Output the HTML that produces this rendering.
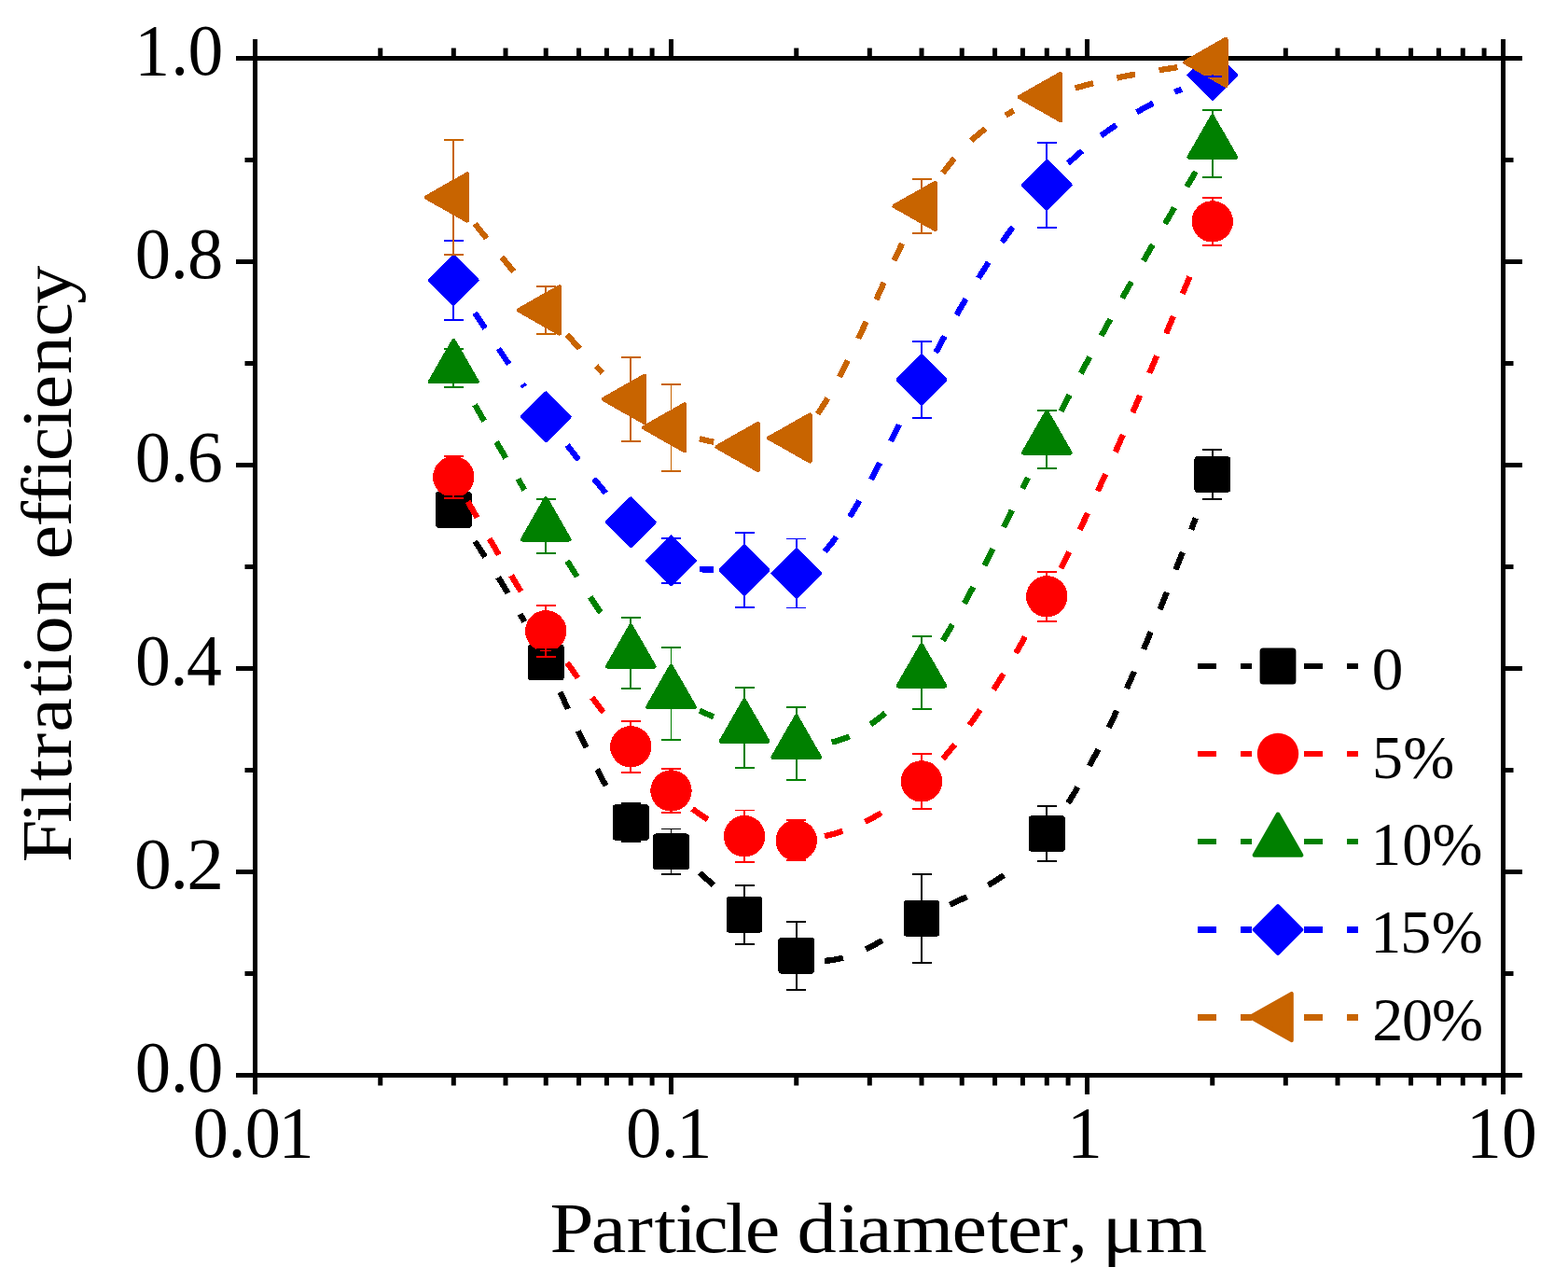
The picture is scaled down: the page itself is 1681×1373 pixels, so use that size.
<!DOCTYPE html>
<html><head><meta charset="utf-8"><title>Filtration efficiency</title><style>html,body{margin:0;padding:0;background:#fff;overflow:hidden}svg{display:block}</style></head>
<body>
<svg width="1681" height="1373" viewBox="0 0 1681 1373"><rect x="273.5" y="62.5" width="1338.0" height="1090.0" fill="none" stroke="#000" stroke-width="5"/>
<path d="M273.5,1152.5 V1173.0 M273.5,62.5 V42.0 M407.76,1152.5 V1163.5 M407.76,62.5 V51.5 M486.30,1152.5 V1163.5 M486.30,62.5 V51.5 M542.02,1152.5 V1163.5 M542.02,62.5 V51.5 M585.24,1152.5 V1163.5 M585.24,62.5 V51.5 M620.56,1152.5 V1163.5 M620.56,62.5 V51.5 M650.41,1152.5 V1163.5 M650.41,62.5 V51.5 M676.28,1152.5 V1163.5 M676.28,62.5 V51.5 M699.09,1152.5 V1163.5 M699.09,62.5 V51.5 M719.5,1152.5 V1173.0 M719.5,62.5 V42.0 M853.76,1152.5 V1163.5 M853.76,62.5 V51.5 M932.30,1152.5 V1163.5 M932.30,62.5 V51.5 M988.02,1152.5 V1163.5 M988.02,62.5 V51.5 M1031.24,1152.5 V1163.5 M1031.24,62.5 V51.5 M1066.56,1152.5 V1163.5 M1066.56,62.5 V51.5 M1096.41,1152.5 V1163.5 M1096.41,62.5 V51.5 M1122.28,1152.5 V1163.5 M1122.28,62.5 V51.5 M1145.09,1152.5 V1163.5 M1145.09,62.5 V51.5 M1165.5,1152.5 V1173.0 M1165.5,62.5 V42.0 M1299.76,1152.5 V1163.5 M1299.76,62.5 V51.5 M1378.30,1152.5 V1163.5 M1378.30,62.5 V51.5 M1434.02,1152.5 V1163.5 M1434.02,62.5 V51.5 M1477.24,1152.5 V1163.5 M1477.24,62.5 V51.5 M1512.56,1152.5 V1163.5 M1512.56,62.5 V51.5 M1542.41,1152.5 V1163.5 M1542.41,62.5 V51.5 M1568.28,1152.5 V1163.5 M1568.28,62.5 V51.5 M1591.09,1152.5 V1163.5 M1591.09,62.5 V51.5 M1611.5,1152.5 V1173.0 M1611.5,62.5 V42.0 M273.5,1152.5 H253.0 M1611.5,1152.5 H1632.0 M273.5,1043.5 H262.5 M1611.5,1043.5 H1622.5 M273.5,934.5 H253.0 M1611.5,934.5 H1632.0 M273.5,825.5 H262.5 M1611.5,825.5 H1622.5 M273.5,716.5 H253.0 M1611.5,716.5 H1632.0 M273.5,607.5 H262.5 M1611.5,607.5 H1622.5 M273.5,498.5 H253.0 M1611.5,498.5 H1632.0 M273.5,389.5 H262.5 M1611.5,389.5 H1622.5 M273.5,280.5 H253.0 M1611.5,280.5 H1632.0 M273.5,171.5 H262.5 M1611.5,171.5 H1622.5 M273.5,62.5 H253.0 M1611.5,62.5 H1632.0" stroke="#000" stroke-width="5" fill="none"/>
<g shape-rendering="crispEdges">
<g fill="none" stroke="#000000" stroke-width="6.3" stroke-dasharray="20 26"><path d="M509.10,580.15 L516.70,591.63 L524.30,603.30 L531.90,615.23 L539.50,627.45 L547.10,640.01 L554.70,652.96 L562.30,666.36"/><path d="M600.44,741.70 L608.04,758.01 L615.64,774.34 L623.24,790.50 L630.84,806.29 L638.44,821.49 L646.04,835.91 L653.64,849.34"/><path d="M749.90,935.51 L757.50,942.09 L765.10,948.93 L772.70,955.98"/><path d="M884.16,1029.89 L891.76,1029.15 L899.36,1027.72 L906.96,1025.66 L914.56,1023.04 L922.16,1019.95 L929.76,1016.46 L937.36,1012.64 L944.96,1008.56 L952.56,1004.31"/><path d="M1018.42,969.64 L1026.02,966.11 L1033.62,962.50 L1041.22,958.76 L1048.82,954.81 L1056.42,950.60 L1064.02,946.06 L1071.62,941.13 L1079.22,935.74 L1086.82,929.83 L1094.42,923.34"/><path d="M1145.08,860.85 L1152.68,848.38 L1160.28,835.18 L1167.88,821.28 L1175.48,806.73 L1183.08,791.56 L1190.68,775.81 L1198.28,759.51 L1205.88,742.72 L1213.48,725.45 L1221.08,707.76 L1228.68,689.67 L1236.28,671.23 L1243.88,652.48 L1251.48,633.44 L1259.08,614.17 L1266.68,594.70 L1274.28,575.06 L1281.88,555.29"/></g>
<rect x="466.90" y="527.00" width="38.8" height="38.8" rx="3.5" fill="#000000"/><rect x="565.84" y="690.60" width="38.8" height="38.8" rx="3.5" fill="#000000"/><rect x="656.88" y="862.10" width="38.8" height="38.8" rx="3.5" fill="#000000"/><rect x="700.10" y="893.40" width="38.8" height="38.8" rx="3.5" fill="#000000"/><rect x="778.64" y="960.90" width="38.8" height="38.8" rx="3.5" fill="#000000"/><rect x="834.36" y="1004.90" width="38.8" height="38.8" rx="3.5" fill="#000000"/><rect x="968.62" y="964.90" width="38.8" height="38.8" rx="3.5" fill="#000000"/><rect x="1102.88" y="874.10" width="38.8" height="38.8" rx="3.5" fill="#000000"/><rect x="1280.36" y="489.10" width="38.8" height="38.8" rx="3.5" fill="#000000"/>
<g fill="none" stroke="#FF0000" stroke-width="6.3" stroke-dasharray="20 26"><path d="M501.50,537.55 L509.10,550.68 L516.70,563.76 L524.30,576.77 L531.90,589.68 L539.50,602.49 L547.10,615.17 L554.70,627.71 L562.30,640.09"/><path d="M608.04,710.27 L615.64,721.14 L623.24,731.80 L630.84,742.23 L638.44,752.45 L646.04,762.47 L653.64,772.28"/><path d="M742.30,866.98 L749.90,872.52 L757.50,877.56 L765.10,882.12"/><path d="M884.16,896.28 L891.76,894.38 L899.36,892.15 L906.96,889.58 L914.56,886.66 L922.16,883.36 L929.76,879.69 L937.36,875.62 L944.96,871.14 L952.56,866.24 L960.16,860.91"/><path d="M1010.82,813.30 L1018.42,804.31 L1026.02,794.87 L1033.62,784.97 L1041.22,774.62 L1048.82,763.85 L1056.42,752.65 L1064.02,741.04 L1071.62,729.02 L1079.22,716.61 L1086.82,703.81 L1094.42,690.64 L1102.02,677.10"/><path d="M1137.48,609.39 L1145.08,593.97 L1152.68,578.27 L1160.28,562.29 L1167.88,546.05 L1175.48,529.57 L1183.08,512.85 L1190.68,495.92 L1198.28,478.78 L1205.88,461.45 L1213.48,443.95 L1221.08,426.29 L1228.68,408.48 L1236.28,390.53 L1243.88,372.47 L1251.48,354.31 L1259.08,336.05 L1266.68,317.72 L1274.28,299.33 L1281.88,280.89"/></g>
<circle cx="486.30" cy="511.20" r="22.2" fill="#FF0000"/><circle cx="585.24" cy="676.30" r="22.2" fill="#FF0000"/><circle cx="676.28" cy="800.30" r="22.2" fill="#FF0000"/><circle cx="719.50" cy="847.50" r="22.2" fill="#FF0000"/><circle cx="798.04" cy="896.20" r="22.2" fill="#FF0000"/><circle cx="853.76" cy="900.90" r="22.2" fill="#FF0000"/><circle cx="988.02" cy="837.40" r="22.2" fill="#FF0000"/><circle cx="1122.28" cy="639.30" r="22.2" fill="#FF0000"/><circle cx="1299.76" cy="237.40" r="22.2" fill="#FF0000"/>
<g fill="none" stroke="#008000" stroke-width="6.3" stroke-dasharray="20 26"><path d="M509.10,433.89 L516.70,447.03 L524.30,460.14 L531.90,473.22 L539.50,486.27 L547.10,499.27 L554.70,512.23 L562.30,525.13"/><path d="M608.04,601.19 L615.64,613.37 L623.24,625.34 L630.84,637.05 L638.44,648.47 L646.04,659.58 L653.64,670.33"/><path d="M749.90,761.69 L757.50,765.10 L765.10,768.20"/><path d="M891.76,795.59 L899.36,793.51 L906.96,790.81 L914.56,787.49 L922.16,783.52 L929.76,778.90 L937.36,773.62 L944.96,767.67 L952.56,761.03 L960.16,753.70"/><path d="M1010.82,686.55 L1018.42,673.92 L1026.02,660.76 L1033.62,647.13 L1041.22,633.07 L1048.82,618.64 L1056.42,603.89 L1064.02,588.88 L1071.62,573.67 L1079.22,558.29 L1086.82,542.82 L1094.42,527.29 L1102.02,511.78"/><path d="M1137.48,440.95 L1145.08,426.28 L1152.68,411.79 L1160.28,397.47 L1167.88,383.31 L1175.48,369.30 L1183.08,355.43 L1190.68,341.69 L1198.28,328.08 L1205.88,314.58 L1213.48,301.19 L1221.08,287.90 L1228.68,274.70 L1236.28,261.58 L1243.88,248.53 L1251.48,235.55 L1259.08,222.62 L1266.68,209.74 L1274.28,196.90 L1281.88,184.08"/></g>
<polygon points="486.30,365.10 511.50,409.00 461.10,409.00" fill="#008000" stroke="#008000" stroke-width="4.4" stroke-linejoin="round"/><polygon points="585.24,534.40 610.44,578.30 560.04,578.30" fill="#008000" stroke="#008000" stroke-width="4.4" stroke-linejoin="round"/><polygon points="676.28,670.60 701.48,714.50 651.08,714.50" fill="#008000" stroke="#008000" stroke-width="4.4" stroke-linejoin="round"/><polygon points="719.50,714.00 744.70,757.90 694.30,757.90" fill="#008000" stroke="#008000" stroke-width="4.4" stroke-linejoin="round"/><polygon points="798.04,750.70 823.24,794.60 772.84,794.60" fill="#008000" stroke="#008000" stroke-width="4.4" stroke-linejoin="round"/><polygon points="853.76,767.80 878.96,811.70 828.56,811.70" fill="#008000" stroke="#008000" stroke-width="4.4" stroke-linejoin="round"/><polygon points="988.02,691.40 1013.22,735.30 962.82,735.30" fill="#008000" stroke="#008000" stroke-width="4.4" stroke-linejoin="round"/><polygon points="1122.28,441.55 1147.48,485.45 1097.08,485.45" fill="#008000" stroke="#008000" stroke-width="4.4" stroke-linejoin="round"/><polygon points="1299.76,124.70 1324.96,168.60 1274.56,168.60" fill="#008000" stroke="#008000" stroke-width="4.4" stroke-linejoin="round"/>
<g fill="none" stroke="#0000FF" stroke-width="6.3" stroke-dasharray="20 26"><path d="M509.10,335.35 L516.70,346.92 L524.30,358.44 L531.90,369.89 L539.50,381.24 L547.10,392.48 L554.70,403.61 L562.30,414.60"/><path d="M608.04,477.13 L615.64,486.89 L623.24,496.50 L630.84,505.95 L638.44,515.25 L646.04,524.43 L653.64,533.48"/><path d="M749.90,610.20 L757.50,610.58 L765.10,610.57"/><path d="M884.16,591.16 L891.76,581.98 L899.36,571.68 L906.96,560.38 L914.56,548.20 L922.16,535.23 L929.76,521.60 L937.36,507.42 L944.96,492.79 L952.56,477.84 L960.16,462.66 L967.76,447.39"/><path d="M1003.22,377.87 L1010.82,363.78 L1018.42,350.02 L1026.02,336.59 L1033.62,323.50 L1041.22,310.77 L1048.82,298.38 L1056.42,286.36 L1064.02,274.70 L1071.62,263.42 L1079.22,252.53 L1086.82,242.02 L1094.42,231.91"/><path d="M1145.08,175.05 L1152.68,168.05 L1160.28,161.41 L1167.88,155.11 L1175.48,149.12 L1183.08,143.44 L1190.68,138.04 L1198.28,132.90 L1205.88,128.01 L1213.48,123.34 L1221.08,118.88 L1228.68,114.62 L1236.28,110.52 L1243.88,106.58 L1251.48,102.77 L1259.08,99.08 L1266.68,95.49"/></g>
<polygon points="486.30,275.30 511.40,300.40 486.30,325.50 461.20,300.40" fill="#0000FF" stroke="#0000FF" stroke-width="4.4" stroke-linejoin="round"/><polygon points="585.24,421.70 610.34,446.80 585.24,471.90 560.14,446.80" fill="#0000FF" stroke="#0000FF" stroke-width="4.4" stroke-linejoin="round"/><polygon points="676.28,534.70 701.38,559.80 676.28,584.90 651.18,559.80" fill="#0000FF" stroke="#0000FF" stroke-width="4.4" stroke-linejoin="round"/><polygon points="719.50,575.80 744.60,600.90 719.50,626.00 694.40,600.90" fill="#0000FF" stroke="#0000FF" stroke-width="4.4" stroke-linejoin="round"/><polygon points="798.04,585.80 823.14,610.90 798.04,636.00 772.94,610.90" fill="#0000FF" stroke="#0000FF" stroke-width="4.4" stroke-linejoin="round"/><polygon points="853.76,589.40 878.86,614.50 853.76,639.60 828.66,614.50" fill="#0000FF" stroke="#0000FF" stroke-width="4.4" stroke-linejoin="round"/><polygon points="988.02,381.90 1013.12,407.00 988.02,432.10 962.92,407.00" fill="#0000FF" stroke="#0000FF" stroke-width="4.4" stroke-linejoin="round"/><polygon points="1122.28,173.25 1147.38,198.35 1122.28,223.45 1097.18,198.35" fill="#0000FF" stroke="#0000FF" stroke-width="4.4" stroke-linejoin="round"/><polygon points="1299.76,55.45 1324.86,80.55 1299.76,105.65 1274.66,80.55" fill="#0000FF" stroke="#0000FF" stroke-width="4.4" stroke-linejoin="round"/>
<g fill="none" stroke="#C86400" stroke-width="6.3" stroke-dasharray="20 26"><path d="M509.10,239.91 L516.70,249.33 L524.30,258.73 L531.90,268.10 L539.50,277.43 L547.10,286.72 L554.70,295.95 L562.30,305.14"/><path d="M608.04,358.80 L615.64,367.32 L623.24,375.69 L630.84,383.87 L638.44,391.85 L646.04,399.60"/><path d="M749.90,470.18 L757.50,472.14 L765.10,473.80"/><path d="M876.56,443.73 L884.16,432.11 L891.76,419.24 L899.36,405.31 L906.96,390.48 L914.56,374.92 L922.16,358.80 L929.76,342.29 L937.36,325.56 L944.96,308.78 L952.56,292.11 L960.16,275.74 L967.76,259.82"/><path d="M1010.82,185.42 L1018.42,175.50 L1026.02,166.45 L1033.62,158.20 L1041.22,150.72 L1048.82,143.93 L1056.42,137.80 L1064.02,132.27 L1071.62,127.28 L1079.22,122.78 L1086.82,118.72"/><path d="M1152.68,94.43 L1160.28,92.34 L1167.88,90.35 L1175.48,88.46 L1183.08,86.66 L1190.68,84.96 L1198.28,83.34 L1205.88,81.79 L1213.48,80.32 L1221.08,78.91 L1228.68,77.56 L1236.28,76.27 L1243.88,75.02 L1251.48,73.82 L1259.08,72.65 L1266.68,71.52"/></g>
<polygon points="456.90,211.55 500.90,186.60 500.90,236.50" fill="#C86400" stroke="#C86400" stroke-width="4.4" stroke-linejoin="round"/><polygon points="555.84,332.45 599.84,307.50 599.84,357.40" fill="#C86400" stroke="#C86400" stroke-width="4.4" stroke-linejoin="round"/><polygon points="646.88,427.85 690.88,402.90 690.88,452.80" fill="#C86400" stroke="#C86400" stroke-width="4.4" stroke-linejoin="round"/><polygon points="690.10,458.30 734.10,433.35 734.10,483.25" fill="#C86400" stroke="#C86400" stroke-width="4.4" stroke-linejoin="round"/><polygon points="768.64,479.00 812.64,454.05 812.64,503.95" fill="#C86400" stroke="#C86400" stroke-width="4.4" stroke-linejoin="round"/><polygon points="824.36,469.50 868.36,444.55 868.36,494.45" fill="#C86400" stroke="#C86400" stroke-width="4.4" stroke-linejoin="round"/><polygon points="958.62,220.90 1002.62,195.95 1002.62,245.85" fill="#C86400" stroke="#C86400" stroke-width="4.4" stroke-linejoin="round"/><polygon points="1092.88,104.00 1136.88,79.05 1136.88,128.95" fill="#C86400" stroke="#C86400" stroke-width="4.4" stroke-linejoin="round"/><polygon points="1270.36,66.80 1314.36,41.85 1314.36,91.75" fill="#C86400" stroke="#C86400" stroke-width="4.4" stroke-linejoin="round"/>
<path d="M486.30,531.90 V560.90 M475.80,531.90 H496.80 M475.80,560.90 H496.80" stroke="#000000" stroke-width="1.9" fill="none"/><path d="M585.24,695.80 V724.20 M574.74,695.80 H595.74 M574.74,724.20 H595.74" stroke="#000000" stroke-width="1.9" fill="none"/><path d="M676.28,861.00 V902.00 M665.78,861.00 H686.78 M665.78,902.00 H686.78" stroke="#000000" stroke-width="1.9" fill="none"/><path d="M719.50,888.50 V937.10 M709.00,888.50 H730.00 M709.00,937.10 H730.00" stroke="#000000" stroke-width="1.9" fill="none"/><path d="M798.04,948.80 V1011.80 M787.54,948.80 H808.54 M787.54,1011.80 H808.54" stroke="#000000" stroke-width="1.9" fill="none"/><path d="M853.76,988.00 V1060.60 M843.26,988.00 H864.26 M843.26,1060.60 H864.26" stroke="#000000" stroke-width="1.9" fill="none"/><path d="M988.02,936.70 V1031.90 M977.52,936.70 H998.52 M977.52,1031.90 H998.52" stroke="#000000" stroke-width="1.9" fill="none"/><path d="M1122.28,864.00 V923.00 M1111.78,864.00 H1132.78 M1111.78,923.00 H1132.78" stroke="#000000" stroke-width="1.9" fill="none"/><path d="M1299.76,482.00 V535.00 M1289.26,482.00 H1310.26 M1289.26,535.00 H1310.26" stroke="#000000" stroke-width="1.9" fill="none"/>
<path d="M486.30,488.80 V533.60 M475.80,488.80 H496.80 M475.80,533.60 H496.80" stroke="#FF0000" stroke-width="1.9" fill="none"/><path d="M585.24,648.60 V704.00 M574.74,648.60 H595.74 M574.74,704.00 H595.74" stroke="#FF0000" stroke-width="1.9" fill="none"/><path d="M676.28,772.70 V827.90 M665.78,772.70 H686.78 M665.78,827.90 H686.78" stroke="#FF0000" stroke-width="1.9" fill="none"/><path d="M719.50,824.00 V871.00 M709.00,824.00 H730.00 M709.00,871.00 H730.00" stroke="#FF0000" stroke-width="1.9" fill="none"/><path d="M798.04,868.50 V923.90 M787.54,868.50 H808.54 M787.54,923.90 H808.54" stroke="#FF0000" stroke-width="1.9" fill="none"/><path d="M853.76,879.40 V922.40 M843.26,879.40 H864.26 M843.26,922.40 H864.26" stroke="#FF0000" stroke-width="1.9" fill="none"/><path d="M988.02,807.90 V866.90 M977.52,807.90 H998.52 M977.52,866.90 H998.52" stroke="#FF0000" stroke-width="1.9" fill="none"/><path d="M1122.28,612.80 V665.80 M1111.78,612.80 H1132.78 M1111.78,665.80 H1132.78" stroke="#FF0000" stroke-width="1.9" fill="none"/><path d="M1299.76,211.80 V263.00 M1289.26,211.80 H1310.26 M1289.26,263.00 H1310.26" stroke="#FF0000" stroke-width="1.9" fill="none"/>
<path d="M486.30,373.90 V414.90 M475.80,373.90 H496.80 M475.80,414.90 H496.80" stroke="#008000" stroke-width="1.9" fill="none"/><path d="M585.24,534.70 V592.70 M574.74,534.70 H595.74 M574.74,592.70 H595.74" stroke="#008000" stroke-width="1.9" fill="none"/><path d="M676.28,661.90 V737.90 M665.78,661.90 H686.78 M665.78,737.90 H686.78" stroke="#008000" stroke-width="1.9" fill="none"/><path d="M719.50,693.60 V793.00 M709.00,693.60 H730.00 M709.00,793.00 H730.00" stroke="#008000" stroke-width="1.9" fill="none"/><path d="M798.04,737.10 V822.90 M787.54,737.10 H808.54 M787.54,822.90 H808.54" stroke="#008000" stroke-width="1.9" fill="none"/><path d="M853.76,758.20 V836.00 M843.26,758.20 H864.26 M843.26,836.00 H864.26" stroke="#008000" stroke-width="1.9" fill="none"/><path d="M988.02,681.70 V759.70 M977.52,681.70 H998.52 M977.52,759.70 H998.52" stroke="#008000" stroke-width="1.9" fill="none"/><path d="M1122.28,439.85 V501.85 M1111.78,439.85 H1132.78 M1111.78,501.85 H1132.78" stroke="#008000" stroke-width="1.9" fill="none"/><path d="M1299.76,118.00 V190.00 M1289.26,118.00 H1310.26 M1289.26,190.00 H1310.26" stroke="#008000" stroke-width="1.9" fill="none"/>
<path d="M486.30,257.95 V342.85 M475.80,257.95 H496.80 M475.80,342.85 H496.80" stroke="#0000FF" stroke-width="1.9" fill="none"/><path d="M585.24,432.80 V460.80 M574.74,432.80 H595.74 M574.74,460.80 H595.74" stroke="#0000FF" stroke-width="1.9" fill="none"/><path d="M676.28,545.80 V573.80 M665.78,545.80 H686.78 M665.78,573.80 H686.78" stroke="#0000FF" stroke-width="1.9" fill="none"/><path d="M719.50,576.90 V624.90 M709.00,576.90 H730.00 M709.00,624.90 H730.00" stroke="#0000FF" stroke-width="1.9" fill="none"/><path d="M798.04,570.90 V650.90 M787.54,570.90 H808.54 M787.54,650.90 H808.54" stroke="#0000FF" stroke-width="1.9" fill="none"/><path d="M853.76,577.50 V651.50 M843.26,577.50 H864.26 M843.26,651.50 H864.26" stroke="#0000FF" stroke-width="1.9" fill="none"/><path d="M988.02,366.00 V448.00 M977.52,366.00 H998.52 M977.52,448.00 H998.52" stroke="#0000FF" stroke-width="1.9" fill="none"/><path d="M1122.28,152.75 V243.95 M1111.78,152.75 H1132.78 M1111.78,243.95 H1132.78" stroke="#0000FF" stroke-width="1.9" fill="none"/><path d="M1299.76,78.95 V82.15 M1289.26,78.95 H1310.26 M1289.26,82.15 H1310.26" stroke="#0000FF" stroke-width="1.9" fill="none"/>
<path d="M486.30,149.90 V273.20 M475.80,149.90 H496.80 M475.80,273.20 H496.80" stroke="#C86400" stroke-width="1.9" fill="none"/><path d="M585.24,307.00 V357.90 M574.74,307.00 H595.74 M574.74,357.90 H595.74" stroke="#C86400" stroke-width="1.9" fill="none"/><path d="M676.28,382.85 V472.85 M665.78,382.85 H686.78 M665.78,472.85 H686.78" stroke="#C86400" stroke-width="1.9" fill="none"/><path d="M719.50,411.80 V504.80 M709.00,411.80 H730.00 M709.00,504.80 H730.00" stroke="#C86400" stroke-width="1.9" fill="none"/><path d="M798.04,467.00 V491.00 M787.54,467.00 H808.54 M787.54,491.00 H808.54" stroke="#C86400" stroke-width="1.9" fill="none"/><path d="M853.76,457.50 V481.50 M843.26,457.50 H864.26 M843.26,481.50 H864.26" stroke="#C86400" stroke-width="1.9" fill="none"/><path d="M988.02,191.90 V249.90 M977.52,191.90 H998.52 M977.52,249.90 H998.52" stroke="#C86400" stroke-width="1.9" fill="none"/><path d="M1122.28,92.00 V116.00 M1111.78,92.00 H1132.78 M1111.78,116.00 H1132.78" stroke="#C86400" stroke-width="1.9" fill="none"/><path d="M1299.76,54.80 V78.80 M1289.26,54.80 H1310.26 M1289.26,78.80 H1310.26" stroke="#C86400" stroke-width="1.9" fill="none"/>
</g>
<g fill="#000000"><rect x="1284" y="711" width="20" height="6"/><rect x="1330" y="711" width="12" height="6"/><rect x="1398" y="711" width="20" height="6"/><rect x="1444" y="711" width="12" height="6"/></g>
<rect x="1350.60" y="694.60" width="38.8" height="38.8" rx="3.5" fill="#000000"/>
<g fill="#FF0000"><rect x="1284" y="805" width="20" height="6"/><rect x="1330" y="805" width="12" height="6"/><rect x="1398" y="805" width="20" height="6"/><rect x="1444" y="805" width="12" height="6"/></g>
<circle cx="1370.00" cy="808.00" r="22.2" fill="#FF0000"/>
<g fill="#008000"><rect x="1284" y="899" width="20" height="6"/><rect x="1330" y="899" width="12" height="6"/><rect x="1398" y="899" width="20" height="6"/><rect x="1444" y="899" width="12" height="6"/></g>
<polygon points="1370.00,872.70 1395.20,916.60 1344.80,916.60" fill="#008000" stroke="#008000" stroke-width="4.4" stroke-linejoin="round"/>
<g fill="#0000FF"><rect x="1284" y="993" width="20" height="7"/><rect x="1330" y="993" width="12" height="7"/><rect x="1398" y="993" width="20" height="7"/><rect x="1444" y="993" width="12" height="7"/></g>
<polygon points="1370.00,971.40 1395.10,996.50 1370.00,1021.60 1344.90,996.50" fill="#0000FF" stroke="#0000FF" stroke-width="4.4" stroke-linejoin="round"/>
<g fill="#C86400"><rect x="1284" y="1087" width="20" height="7"/><rect x="1330" y="1087" width="12" height="7"/><rect x="1398" y="1087" width="20" height="7"/><rect x="1444" y="1087" width="12" height="7"/></g>
<polygon points="1340.60,1090.00 1384.60,1065.05 1384.60,1114.95" fill="#C86400" stroke="#C86400" stroke-width="4.4" stroke-linejoin="round"/>
<g font-family="'Liberation Serif', serif" fill="#000"><text transform="scale(0.9700,1)" x="148.6 189.0 207.7" y="80.0" font-size="78">1.0</text><text transform="scale(0.9830,1)" x="147.3 185.9 204.6" y="298.0" font-size="78">0.8</text><text transform="scale(0.9782,1)" x="148.1 186.7 205.2" y="516.0" font-size="78">0.6</text><text transform="scale(0.9708,1)" x="149.3 188.1 206.0" y="734.0" font-size="78">0.4</text><text transform="scale(1.0219,1)" x="140.9 178.3 195.9" y="952.0" font-size="78">0.2</text><text transform="scale(0.9842,1)" x="147.1 185.7 204.3" y="1170.0" font-size="78">0.0</text><text transform="scale(0.9787,1)" x="211.3 249.9 268.6 305.1" y="1240.0" font-size="78">0.01</text><text transform="scale(0.9784,1)" x="685.7 724.4 741.4" y="1240.0" font-size="78">0.1</text><text transform="scale(0.9700,1)" x="1179.4" y="1240.0" font-size="78">1</text><text transform="scale(0.9700,1)" x="1620.5 1659.9" y="1240.0" font-size="78">10</text><text transform="scale(1.0987,1)" x="536.5 576.8 611.4 638.5 658.8 676.4 707.9 727.0 760.5 777.7 817.3 836.5 870.6 928.9 963.0 983.0 1016.4 1042.1 1059.7 1075.7 1118.0" y="1341.7" font-size="77">Particle diameter, μm</text><text transform="rotate(-90) scale(1.0695,1)" x="-864.2 -824.4 -804.3 -782.5 -760.3 -733.7 -697.5 -676.4 -656.0 -617.2 -577.2 -560.5 -527.8 -504.6 -480.6 -462.1 -429.7 -409.9 -375.2 -337.3 -304.5" y="76.5" font-size="77">Filtration efficiency</text><text transform="scale(1.0189,1)" x="1443.6" y="739.0" font-size="66">0</text><text x="1471.0 1504.3" y="833.6" font-size="66">5%</text><text transform="scale(0.9802,1)" x="1499.4 1533.5 1566.5" y="926.8" font-size="66">10%</text><text x="1469.2 1501.3 1534.7" y="1021.2" font-size="66">15%</text><text transform="scale(1.0029,1)" x="1467.0 1498.7 1530.5" y="1115.0" font-size="66">20%</text></g></svg>
</body></html>
